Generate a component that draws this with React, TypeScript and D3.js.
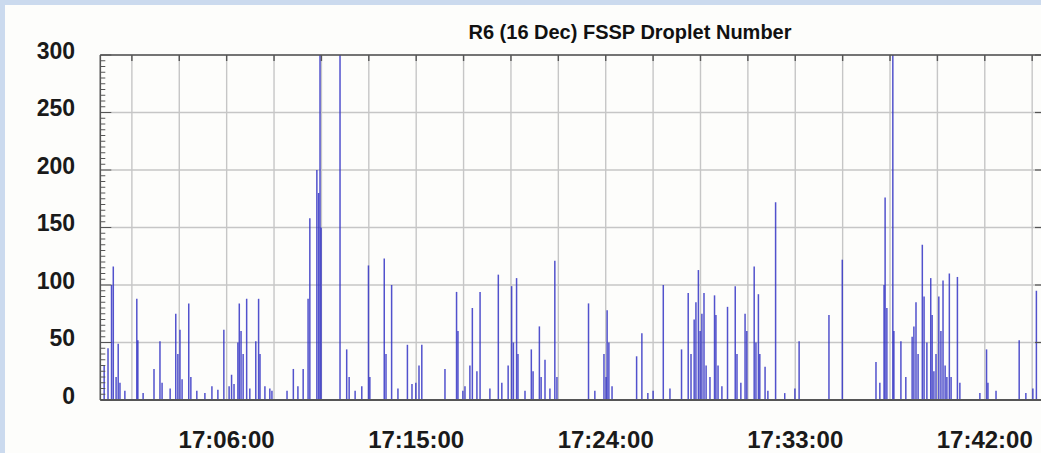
import React from "react";
import * as d3 from "d3";

const chartTitle = "R6 (16 Dec) FSSP Droplet Number";
const timeStart = "17:00:00";
const timeEnd = "17:44:43";
const gridStart = "17:01:30";
const gridStepSeconds = 135;
const xTickLabels = ["17:06:00", "17:15:00", "17:24:00", "17:33:00", "17:42:00"];
const yTickValues = [0, 50, 100, 150, 200, 250, 300];

const spikeTimes = [
  "17:00:11", "17:00:22", "17:00:32", "17:00:37", "17:00:45", "17:00:51", "17:00:56",
  "17:01:44", "17:01:47", "17:02:33", "17:02:50", "17:02:56", "17:03:35", "17:03:41",
  "17:03:47", "17:03:53", "17:04:12", "17:04:18", "17:04:35", "17:05:35", "17:05:52",
  "17:06:07", "17:06:14", "17:06:21", "17:06:32", "17:06:36", "17:06:41", "17:06:47",
  "17:06:57", "17:07:23", "17:07:31", "17:07:35", "17:08:03", "17:08:09", "17:09:10",
  "17:09:38", "17:09:52", "17:09:57", "17:10:17", "17:10:22", "17:10:26", "17:10:29",
  "17:11:23", "17:11:42", "17:11:49", "17:12:25", "17:12:44", "17:12:48", "17:13:29",
  "17:13:34", "17:13:50", "17:14:35", "17:14:59", "17:15:08", "17:15:16", "17:16:22",
  "17:16:55", "17:16:59", "17:17:13", "17:17:33", "17:17:40", "17:17:53", "17:18:02",
  "17:18:54", "17:19:22", "17:19:32", "17:19:37", "17:19:46", "17:19:50", "17:20:28",
  "17:20:33", "17:20:51", "17:20:56", "17:21:07", "17:21:35", "17:21:41", "17:23:11",
  "17:23:55", "17:24:01", "17:24:04", "17:24:09", "17:25:28", "17:25:43", "17:26:15",
  "17:26:44", "17:27:36", "17:27:55", "17:28:03", "17:28:12", "17:28:17", "17:28:24",
  "17:28:29", "17:28:34", "17:28:40", "17:28:46", "17:29:10", "17:29:14", "17:29:20",
  "17:29:47", "17:30:09", "17:30:14", "17:30:37", "17:30:42", "17:31:03", "17:31:08",
  "17:31:15", "17:31:19", "17:31:34", "17:32:04", "17:32:59", "17:33:11", "17:34:36",
  "17:35:14", "17:36:50", "17:37:13", "17:37:16", "17:37:21", "17:37:38", "17:37:41",
  "17:38:01", "17:38:33", "17:38:38", "17:38:44", "17:38:50", "17:39:02", "17:39:07",
  "17:39:15", "17:39:26", "17:39:30", "17:39:41", "17:39:49", "17:39:55", "17:40:01",
  "17:40:07", "17:40:19", "17:40:24", "17:40:42", "17:40:49", "17:42:05", "17:42:09",
  "17:43:38", "17:44:17", "17:44:27",
  // small counts along the baseline
  "17:01:10", "17:02:02", "17:03:19", "17:04:58", "17:05:18", "17:07:06", "17:07:49",
  "17:08:52", "17:09:23", "17:12:06", "17:14:08", "17:14:48", "17:17:19", "17:18:30",
  "17:19:04", "17:20:10", "17:21:21", "17:23:29", "17:24:18", "17:26:00", "17:27:03",
  "17:28:57", "17:29:31", "17:30:25", "17:31:42", "17:32:30", "17:37:01", "17:38:15",
  "17:39:35", "17:40:12", "17:41:46", "17:42:32", "17:43:57",
];

const spikeCounts = [
  30, 45, 100, 116, 20, 49, 15,
  88, 52, 27, 51, 15, 75, 40,
  61, 18, 84, 20, 8, 9, 61,
  12, 22, 14, 50, 84, 60, 40,
  88, 51, 88, 40, 10, 8, 27,
  27, 88, 158, 200, 180, 310, 150,
  310, 44, 20, 12, 117, 20, 123,
  40, 100, 48, 15, 30, 48, 27,
  94, 60, 8, 30, 80, 25, 94,
  109, 30, 99, 50, 106, 40, 44,
  25, 64, 20, 35, 121, 20, 84,
  40, 20, 78, 50, 38, 58, 8,
  100, 44, 93, 40, 70, 85, 113,
  60, 75, 93, 30, 91, 74, 30,
  81, 99, 40, 75, 60, 116, 50,
  92, 40, 29, 172, 10, 51, 74,
  122, 33, 100, 176, 80, 310, 60,
  51, 55, 64, 85, 40, 135, 90,
  50, 106, 74, 40, 90, 60, 104,
  30, 110, 20, 107, 15, 44, 15,
  52, 10, 95,
  // small counts along the baseline
  8, 6, 10, 6, 12, 10, 12,
  8, 12, 8, 10, 14, 12, 10,
  15, 8, 10, 8, 12, 6, 10,
  20, 12, 15, 8, 6, 15, 20,
  25, 20, 6, 8, 6,
];

const W = 1041;
const H = 453;
const plotLeft = 100.3;
const plotRight = 1042;
const plotTop = 55;
const plotBottom = 400;

export default function App() {
  const parse = d3.timeParse("%H:%M:%S");
  const x = d3
    .scaleTime()
    .domain([parse(timeStart) as Date, parse(timeEnd) as Date])
    .range([plotLeft, plotRight]);
  const y = d3.scaleLinear().domain([0, 300]).range([plotBottom, plotTop]);

  const gridTimes: Date[] = [];
  const g0 = parse(gridStart) as Date;
  const endT = parse(timeEnd) as Date;
  for (let t = g0; t <= endT; t = d3.timeSecond.offset(t, gridStepSeconds)) gridTimes.push(t);

  const minorY = d3.range(0, 301, 5);
  const spikes = spikeTimes.map((s, i) => ({ t: parse(s) as Date, v: spikeCounts[i] }));

  return (
    <svg
      width={W}
      height={H}
      style={{ position: "absolute", left: 0, top: 0 }}
      fontFamily="'Liberation Sans', Arial, sans-serif"
    >
      <defs>
        <clipPath id="plotClip">
          <rect x={plotLeft} y={plotTop} width={plotRight - plotLeft} height={plotBottom - plotTop} />
        </clipPath>
      </defs>
      <rect x={0} y={0} width={W} height={H} fill="#cbdaee" />
      <rect x={5} y={5} width={W - 5} height={H - 5} fill="#fdfdfb" />

      <text x={630} y={39} textAnchor="middle" fontWeight="bold" fontSize={20} fill="#111">
        {chartTitle}
      </text>

      {/* grid */}
      {yTickValues.map((v) => (
        <line key={"gy" + v} x1={plotLeft} x2={plotRight} y1={y(v)} y2={y(v)} stroke="#c6c6c6" strokeWidth={1.4} />
      ))}
      {gridTimes.map((t, i) => (
        <line key={"gx" + i} x1={x(t)} x2={x(t)} y1={plotTop} y2={plotBottom} stroke="#c6c6c6" strokeWidth={1.4} />
      ))}

      {/* data */}
      <g clipPath="url(#plotClip)">
        {spikes.map((d, i) => (
          <line
            key={"s" + i}
            x1={x(d.t)}
            x2={x(d.t)}
            y1={y(0)}
            y2={y(d.v)}
            stroke="#3434c4"
            strokeWidth={1.5}
            strokeOpacity={0.85}
          />
        ))}
      </g>

      {/* axes frame */}
      <line x1={plotLeft} x2={plotRight} y1={plotTop} y2={plotTop} stroke="#555" strokeWidth={1.6} />
      <line x1={plotLeft} x2={plotRight} y1={plotBottom} y2={plotBottom} stroke="#555" strokeWidth={2} />
      <line x1={plotLeft} x2={plotLeft} y1={plotTop} y2={plotBottom} stroke="#555" strokeWidth={1.6} />

      {/* left ticks */}
      {minorY.map((v) => (
        <line
          key={"ly" + v}
          x1={plotLeft}
          x2={plotLeft + (v % 50 === 0 ? 11 : 5)}
          y1={y(v)}
          y2={y(v)}
          stroke="#555"
          strokeWidth={1}
        />
      ))}
      {/* right ticks */}
      {yTickValues.map((v) => (
        <line key={"ry" + v} x1={plotRight - 7} x2={plotRight} y1={y(v)} y2={y(v)} stroke="#555" strokeWidth={1.2} />
      ))}
      {/* top ticks */}
      {gridTimes.map((t, i) => (
        <line key={"tx" + i} x1={x(t)} x2={x(t)} y1={plotTop} y2={plotTop + 6} stroke="#555" strokeWidth={1.4} />
      ))}

      {/* y labels */}
      {yTickValues.map((v) => (
        <text key={"yl" + v} x={75} y={y(v) + 3.5} textAnchor="end" fontWeight="bold" fontSize={23} fill="#1a1a1a">
          {v}
        </text>
      ))}
      {/* x labels */}
      {xTickLabels.map((s) => (
        <text key={"xl" + s} x={x(parse(s) as Date)} y={448} textAnchor="middle" fontWeight="bold" fontSize={24} fill="#1a1a1a">
          {s}
        </text>
      ))}
    </svg>
  );
}
